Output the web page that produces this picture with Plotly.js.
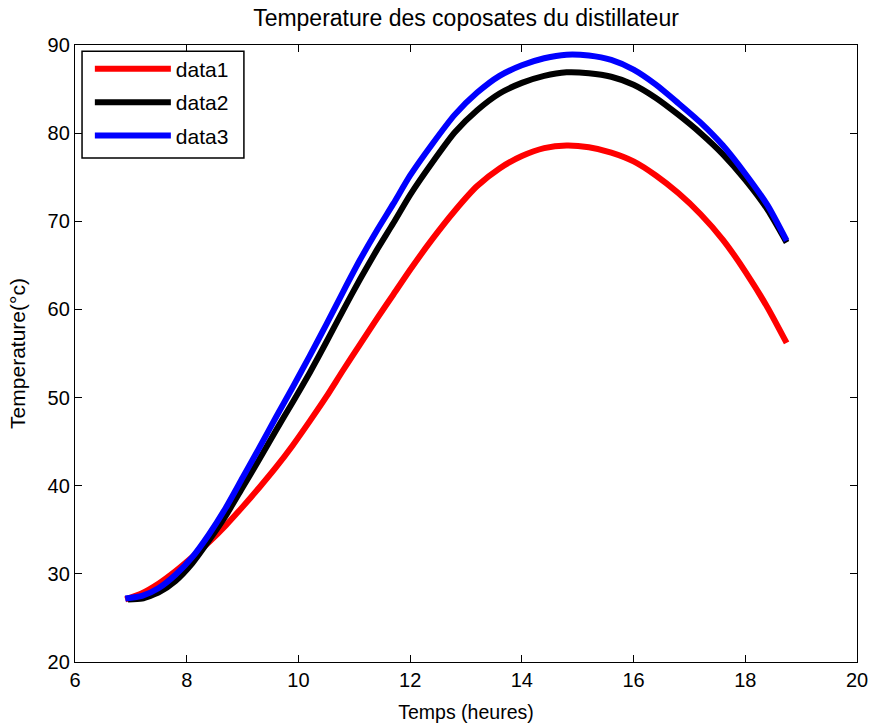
<!DOCTYPE html>
<html>
<head>
<meta charset="utf-8">
<script src="https://cdn.plot.ly/plotly-3.0.1.min.js"></script>
<style>html,body{margin:0;padding:0;background:#fff;}#chart{width:871px;height:726px;}</style>
</head>
<body>
<div id="chart"></div>
<script>
const x1 = [6.9,7.2,7.5,7.8,8.1,8.4,8.7,9.0,9.3,9.6,9.9,10.2,10.5,10.8,11.1,11.4,11.7,12.0,12.4,12.8,13.2,13.6,14.0,14.4,14.8,15.2,15.6,16.0,16.4,16.8,17.2,17.6,18.0,18.4,18.74];
const data1 = [27.1,27.8,28.9,30.3,31.9,33.6,35.5,37.6,39.8,42.1,44.6,47.3,50.1,53.1,56.0,58.9,61.7,64.5,68.0,71.2,74.0,76.0,77.4,78.3,78.6,78.4,77.8,76.8,75.2,73.2,70.8,67.9,64.3,60.2,56.2];
const x2 = [6.95,7.2,7.5,7.8,8.1,8.4,8.7,9.0,9.3,9.6,9.9,10.2,10.5,10.8,11.1,11.4,11.7,12.0,12.4,12.8,13.2,13.6,14.0,14.4,14.8,15.2,15.6,16.0,16.4,16.8,17.2,17.6,18.0,18.4,18.74];
const data2 = [27.1,27.2,27.9,29.2,31.2,33.8,36.6,39.8,43.0,46.3,49.5,52.8,56.3,59.9,63.4,66.7,69.8,73.0,76.7,80.1,82.6,84.5,85.7,86.5,86.9,86.8,86.4,85.5,84.0,82.1,80.0,77.6,74.7,71.3,67.6];
const x3 = x1;
const data3 = [27.2,27.5,28.4,29.9,31.9,34.5,37.5,40.9,44.3,47.8,51.2,54.7,58.3,62.0,65.6,68.9,72.0,75.2,78.8,82.1,84.6,86.5,87.7,88.5,88.9,88.8,88.3,87.2,85.5,83.4,81.2,78.6,75.4,71.8,67.8];
const seriesNames = ['data1','data2','data3'];
const xTicks = [6,8,10,12,14,16,18,20];
const yTicks = [20,30,40,50,60,70,80,90];

const font = 'Liberation Sans, Arial, sans-serif';
const traces = [
  {x:x1, y:data1, name:seriesNames[0], color:'#ff0000', group:'a'},
  {x:x2, y:data2, name:seriesNames[1], color:'#000000', group:'b'},
  {x:x3, y:data3, name:seriesNames[2], color:'#0000ff', group:'c'}
].map(t => ({
  type:'scatter', mode:'lines', x:t.x, y:t.y, name:t.name, legendgroup:t.group,
  line:{color:t.color, width:6, shape:'spline', smoothing:0.6}
}));

const layout = {
  width:871, height:726,
  margin:{l:75, r:14, t:45, b:64},
  paper_bgcolor:'#fff', plot_bgcolor:'#fff',
  font:{family:font, color:'#000', size:20},
  title:{text:'Temperature des coposates du distillateur', font:{size:23, family:font}, xref:'paper', x:0.5, xanchor:'center', y:0.975, yanchor:'middle'},
  xaxis:{range:[6,20], tickvals:xTicks, ticktext:xTicks.map(String), ticks:'inside', ticklen:7, tickcolor:'#000',
    showline:true, linecolor:'#000', linewidth:1.2, mirror:'ticks', showgrid:false, zeroline:false,
    tickfont:{size:20}, title:{text:'Temps (heures)', font:{size:19.5}, standoff:15}},
  yaxis:{range:[20,90], tickvals:yTicks, ticktext:yTicks.map(String), ticks:'inside', ticklen:7, tickcolor:'#000',
    showline:true, linecolor:'#000', linewidth:1.2, mirror:'ticks', showgrid:false, zeroline:false,
    tickfont:{size:20}, title:{text:'Temperature(°c)', font:{size:21}, standoff:16}},
  shapes:[{type:'rect', xref:'paper', yref:'paper', x0:0.009, x1:0.216, y0:0.817, y1:0.990,
    line:{color:'#000', width:1.5}, fillcolor:'#fff', layer:'above'}],
  showlegend:true,
  legend:{x:0.019, y:0.994, xanchor:'left', yanchor:'top', bgcolor:'rgba(0,0,0,0)', borderwidth:0,
    font:{size:21, family:font}, traceorder:'grouped', tracegroupgap:3, itemwidth:76}
};
Plotly.newPlot('chart', traces, layout, {displayModeBar:false, staticPlot:true});
</script>
</body>
</html>
